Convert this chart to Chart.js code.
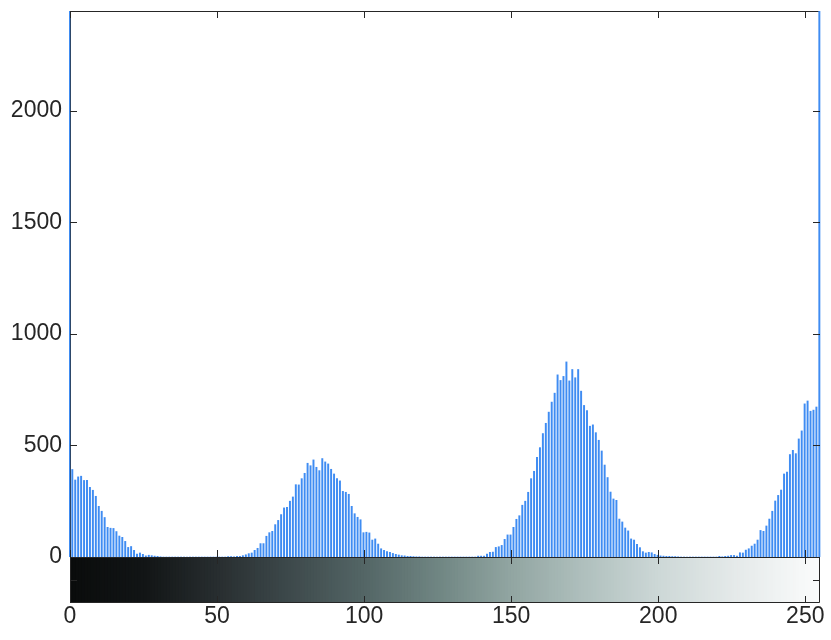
<!DOCTYPE html>
<html>
<head>
<meta charset="utf-8">
<script src="https://cdn.jsdelivr.net/npm/chart.js@4.4.0/dist/chart.umd.min.js"></script>
<style>
  html, body { margin: 0; padding: 0; background: #fff; }
  #wrap { width: 831px; height: 640px; }
</style>
</head>
<body>
<div id="wrap"><canvas id="histChart"></canvas></div>
<script>
// counts per gray level 0..255 (bins 0 and 255 run off the top)
const binCounts = [
  3000, 392, 345, 359, 362, 343, 344, 312, 299, 272,
  227, 205, 177, 133, 129, 128, 114, 94, 88, 70,
  43, 47, 30, 13, 18, 12, 5, 8, 6, 4,
  3, 1, 0, 0, 0, 0, 0, 0, 0, 0,
  0, 0, 0, 0, 0, 0, 0, 0, 0, 0,
  0, 0, 0, 0, 2, 2, 1, 3, 3, 6,
  10, 15, 18, 30, 39, 60, 60, 93, 109, 115,
  145, 164, 190, 220, 223, 250, 269, 324, 323, 351,
  375, 420, 409, 435, 402, 387, 441, 426, 417, 393,
  372, 351, 341, 294, 290, 281, 227, 194, 178, 167,
  109, 111, 108, 76, 81, 58, 37, 30, 24, 21,
  16, 12, 9, 6, 5, 3, 3, 2, 1, 1,
  0, 0, 0, 0, 0, 0, 0, 0, 0, 0,
  0, 0, 0, 0, 0, 0, 0, 0, 0, 4,
  4, 4, 13, 21, 22, 43, 46, 52, 79, 99,
  99, 133, 169, 185, 232, 250, 290, 351, 384, 447,
  490, 553, 599, 649, 694, 734, 816, 791, 809, 874,
  789, 840, 803, 840, 743, 679, 656, 586, 592, 557,
  523, 475, 412, 356, 291, 260, 254, 170, 157, 130,
  117, 81, 76, 57, 42, 24, 18, 21, 19, 12,
  8, 5, 4, 3, 3, 2, 2, 1, 0, 0,
  0, 0, 0, 0, 0, 0, 0, 0, 0, 0,
  0, 3, 1, 3, 4, 7, 7, 4, 19, 18,
  31, 37, 49, 58, 76, 119, 115, 139, 170, 205,
  251, 276, 300, 372, 380, 459, 478, 463, 529, 565,
  686, 699, 653, 658, 672, 3000
];
const xTicks = [0, 50, 100, 150, 200, 250];
const yTicks = [0, 500, 1000, 1500, 2000];
const yLimit = 2446;

// colour bar stops: [gray level, [r, g, b]]
const barStops = [
  [0, [10, 12, 12]], [25, [18, 21, 22]], [50, [40, 46, 48]],
  [75, [62, 74, 76]], [100, [84, 102, 102]], [125, [112, 134, 131]],
  [150, [146, 166, 162]], [175, [176, 192, 190]], [200, [205, 216, 215]],
  [225, [228, 233, 233]], [255, [251, 252, 252]]
];

const bins = binCounts.map((_, i) => i);

function barColor(level) {
  for (let i = 1; i < barStops.length; i++) {
    const [l1, c1] = barStops[i];
    if (level <= l1) {
      const [l0, c0] = barStops[i - 1];
      const t = (level - l0) / (l1 - l0);
      const c = c0.map((v, k) => Math.round(v + (c1[k] - v) * t));
      return 'rgb(' + c.join(',') + ')';
    }
  }
  return 'rgb(251,252,252)';
}

const textColor = '#262626';
const labelFont = { family: "'Liberation Sans', Arial, sans-serif", size: 23 };

// no extra room for half labels, the frame sits at fixed pixels
function noPad(s) {
  s.paddingTop = 0; s.paddingBottom = 0;
  s.paddingLeft = 0; s.paddingRight = 0;
}

// box + inward MATLAB style ticks
const axisFrame = {
  id: 'axisFrame',
  beforeDatasetsDraw(chart) {
    const { ctx } = chart;
    const x = chart.scales.x, y = chart.scales.y;
    ctx.save();
    ctx.strokeStyle = textColor;
    ctx.lineWidth = 1;
    ctx.strokeRect(x.left + 0.5, y.top + 0.5, x.right - x.left - 1, y.bottom - y.top);
    ctx.restore();
  },
  afterDatasetsDraw(chart) {
    const { ctx } = chart;
    const x = chart.scales.x, y = chart.scales.y, yc = chart.scales.yc;
    const len = 7;
    ctx.save();
    ctx.strokeStyle = textColor;
    ctx.lineWidth = 1;
    ctx.beginPath();
    // colour bar box
    ctx.rect(x.left + 0.5, yc.top + 0.5, x.right - x.left - 1, yc.bottom - yc.top - 1);
    xTicks.forEach(v => {
      const px = Math.round(x.getPixelForValue(v)) + 0.5;
      ctx.moveTo(px, y.top); ctx.lineTo(px, y.top + len);
      ctx.moveTo(px, y.bottom); ctx.lineTo(px, y.bottom - len);
      ctx.moveTo(px, yc.top); ctx.lineTo(px, yc.top + len);
      ctx.moveTo(px, yc.bottom); ctx.lineTo(px, yc.bottom - len);
    });
    yTicks.forEach(v => {
      const py = Math.round(y.getPixelForValue(v)) + 0.5;
      ctx.moveTo(x.left, py); ctx.lineTo(x.left + len, py);
      ctx.moveTo(x.right, py); ctx.lineTo(x.right - len, py);
    });
    const mid = Math.round(yc.getPixelForValue(0.5)) + 0.5;
    ctx.moveTo(x.left, mid); ctx.lineTo(x.left + len, mid);
    ctx.moveTo(x.right, mid); ctx.lineTo(x.right - len, mid);
    ctx.stroke();
    ctx.restore();
  }
};

new Chart(document.getElementById('histChart'), {
  type: 'bar',
  data: {
    datasets: [{
      label: 'counts',
      data: bins.map(i => ({ x: i, y: binCounts[i] })),
      yAxisID: 'y',
      backgroundColor: '#3f8cf2',
      borderWidth: 0,
      barThickness: 1.3,
      clip: { left: 1, right: 1, top: 0, bottom: 0 }
    }, {
      label: 'colorbar',
      data: bins.map(i => ({ x: i, y: 1 })),
      yAxisID: 'yc',
      backgroundColor: bins.map(barColor),
      borderWidth: 0,
      barThickness: 4
    }]
  },
  options: {
    responsive: true,
    maintainAspectRatio: false,
    animation: false,
    devicePixelRatio: 1,
    layout: { padding: { top: 11, right: 11, left: 0, bottom: 0 } },
    plugins: {
      legend: { display: false },
      tooltip: { enabled: false }
    },
    scales: {
      x: {
        type: 'linear',
        position: 'bottom',
        min: 0,
        max: 255,
        offset: false,
        grid: { display: false, drawTicks: false, offset: false },
        border: { display: false },
        ticks: {
          color: textColor, font: labelFont, padding: 0, maxRotation: 0,
          autoSkip: false, includeBounds: false,
          callback: v => String(v)
        },
        afterBuildTicks: s => { s.ticks = xTicks.map(v => ({ value: v })); },
        afterFit: s => { s.height = 37; noPad(s); }
      },
      y: {
        position: 'left',
        stack: 'plot',
        stackWeight: 546,
        weight: 2,
        min: 0,
        max: yLimit,
        grid: { display: false, drawTicks: false },
        border: { display: false },
        ticks: {
          color: textColor, font: labelFont, padding: 8, includeBounds: false,
          callback: v => String(v)
        },
        afterBuildTicks: s => { s.ticks = yTicks.map(v => ({ value: v })); },
        afterFit: s => { s.width = 70; noPad(s); }
      },
      yc: {
        position: 'left',
        stack: 'plot',
        stackWeight: 46,
        weight: 1,
        min: 0,
        max: 1,
        grid: { display: false, drawTicks: false },
        border: { display: false },
        ticks: { display: false },
        afterFit: s => { s.width = 70; noPad(s); }
      }
    }
  },
  plugins: [axisFrame]
});
</script>
</body>
</html>
